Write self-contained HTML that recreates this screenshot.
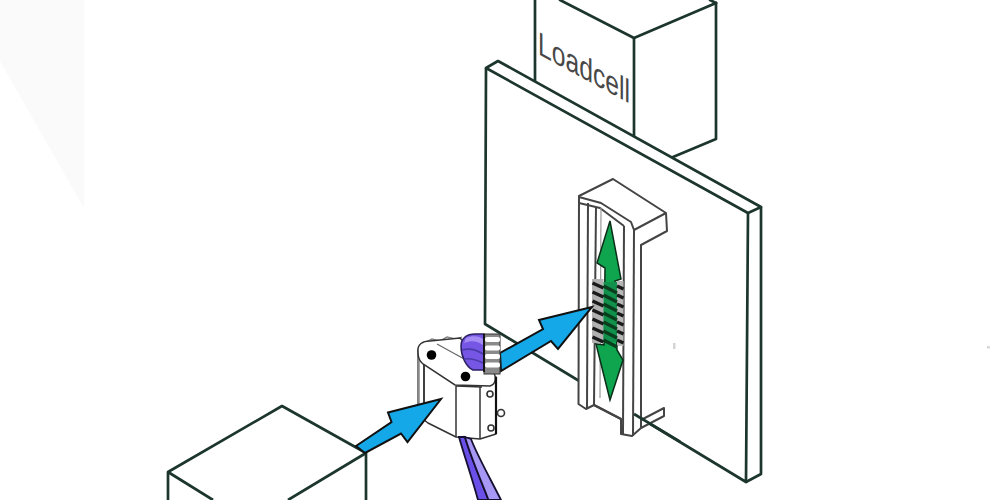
<!DOCTYPE html>
<html><head><meta charset="utf-8">
<style>
html,body{margin:0;padding:0;background:#fff;width:990px;height:500px;overflow:hidden;}
svg{display:block;}
</style></head>
<body>
<svg width="990" height="500" viewBox="0 0 990 500">
<rect width="990" height="500" fill="#fff"/>
<polygon points="0,0 84,0 84,208 0,61" fill="#fafafa"/>

<!-- Loadcell box -->
<g stroke="#1c362e" stroke-width="2.7" fill="none" stroke-linecap="round" stroke-linejoin="round">
<polyline points="535,0 535,81"/>
<polyline points="560,0 634,38 716,3"/>
<polyline points="716,3 710,0"/>
<polyline points="634,38 634,137"/>
<polyline points="716,3 716,139 673,157"/>
</g>
<text transform="translate(538,54) matrix(0.748,0.404,0,1,0,0)" font-family="Liberation Sans, sans-serif" font-size="33" fill="#484848">Loadcell</text>

<!-- Board -->
<g stroke="#1c362e" stroke-width="2.7" fill="none" stroke-linejoin="round">
<polygon points="486,68 498,61 761,207 748,213" fill="#fff"/>
<polyline points="486,68 485,324 746,482 748,213"/>
<polyline points="761,207 761,474 746,482"/>
</g>

<!-- Box -->
<g stroke="#1c362e" stroke-width="2.7" fill="none" stroke-linejoin="round">
<polyline points="168,500 168,472 282,406 366,453 366,500"/>
<polyline points="213,500 168,472"/>
<polyline points="288,500 366,453"/>
</g>

<!-- Rail -->
<g stroke="#444" stroke-width="2" fill="#fff" stroke-linejoin="round">
<polygon points="579,196 613,179 666,213 667,231 641,245 641,420 664,408 664,416 641,428 632,436 621,434 621,419 594,405 586,409 578.5,404"/>
<polyline points="579,197 601,203 631,222 634,230 666,213" fill="none"/>
<polyline points="579,203 600,208 624,226" fill="none"/>
<polyline points="634,230 633,436" fill="none"/>
<polyline points="624,226 623,434" fill="none"/>
<polyline points="641,245 641,428" fill="none"/>
<polyline points="588,203 587,408" fill="none"/>
<polyline points="596,207 594,405" fill="none"/>
<polyline points="601,208 600,398" fill="none" stroke="#999" stroke-width="1.2"/>
<polyline points="594,405 621,419" fill="none"/>
</g>

<line x1="634" y1="414" x2="680" y2="441.6" stroke="#1c362e" stroke-width="2.7"/>
<!-- Green double arrow -->
<polygon points="610,221 621,279 615,281 617,350 623,360 610,400 596,344 604,345 605,268 597,263" fill="#0fa54f" stroke="#0a2e18" stroke-width="1.5" stroke-linejoin="miter"/>
<!-- connector -->
<rect x="592" y="279" width="11.5" height="64" fill="#b0b0b0"/>
<rect x="617" y="281" width="6.5" height="65" fill="#b8b8b8"/>
<rect x="603.5" y="282" width="13.5" height="60" fill="#10904a"/>
<g stroke="#1a1a1a" stroke-width="3.5">
<line x1="592.5" y1="283" x2="603.5" y2="288"/>
<line x1="617" y1="286" x2="623.5" y2="289"/>
<line x1="592.5" y1="292" x2="603.5" y2="297"/>
<line x1="617" y1="295" x2="623.5" y2="298"/>
<line x1="592.5" y1="301" x2="603.5" y2="306"/>
<line x1="617" y1="304" x2="623.5" y2="307"/>
<line x1="592.5" y1="310" x2="603.5" y2="315"/>
<line x1="617" y1="313" x2="623.5" y2="316"/>
<line x1="592.5" y1="319" x2="603.5" y2="324"/>
<line x1="617" y1="322" x2="623.5" y2="325"/>
<line x1="592.5" y1="328" x2="603.5" y2="333"/>
<line x1="617" y1="331" x2="623.5" y2="334"/>
<line x1="592.5" y1="337" x2="603.5" y2="342"/>
<line x1="617" y1="340" x2="623.5" y2="343"/>
</g>
<g stroke="#0a3d1e" stroke-width="3.5">
<line x1="603.5" y1="286" x2="617" y2="293"/>
<line x1="603.5" y1="295" x2="617" y2="302"/>
<line x1="603.5" y1="304" x2="617" y2="311"/>
<line x1="603.5" y1="313" x2="617" y2="320"/>
<line x1="603.5" y1="322" x2="617" y2="329"/>
<line x1="603.5" y1="331" x2="617" y2="338"/>
<line x1="603.5" y1="340" x2="617" y2="347"/>
</g>

<!-- Device -->
<g stroke="#333" stroke-width="1.5" fill="#fff" stroke-linejoin="round">
<polygon points="418,350 496,377 496,434 480,439 456,437 428,423 418,415"/>
<polyline points="456,386 456,437" fill="none"/>
<polyline points="480,387 480,439" fill="none"/>
<polyline points="456,386 482,387" fill="none"/>
</g>
<line x1="418.5" y1="352" x2="418.5" y2="412" stroke="#888" stroke-width="2.5"/>
<line x1="424" y1="362" x2="424" y2="404" stroke="#111" stroke-width="1.6"/>
<g stroke="#777" stroke-width="1.2" fill="none">
<path d="M424,343 L432,339 L440,341 L447,337 L456,339 L462,337"/>
<path d="M436,341 L444,345 M448,339 L456,344"/>
</g>
<path d="M418,352 C417,344 423,341 430,341 L460,338 L490,368 C497,374 497,384 490,386 L455,385 L423,364 C419,361 418,357 418,352 Z" fill="#fff" stroke="#333" stroke-width="1.5"/>
<path d="M437,344 L486,371" stroke="#666" stroke-width="1.2" fill="none"/>
<circle cx="431.5" cy="355" r="4.8" fill="#000"/>
<circle cx="465.5" cy="376.5" r="4.8" fill="#000"/>
<line x1="496" y1="377" x2="496" y2="434" stroke="#111" stroke-width="2.2"/>
<!-- screws -->
<g fill="#fff" stroke="#333" stroke-width="1.6">
<circle cx="490" cy="394" r="3"/>
<circle cx="501" cy="413" r="3.5"/>
<circle cx="491" cy="428" r="3"/>
</g>
<!-- ribbon -->
<path d="M459,437 L465,437 C470,455 480,478 488.5,500 L478,500 C472,478 464,455 459,437 Z" fill="#6a50e8" stroke="#151030" stroke-width="1.8"/>
<path d="M465,437 L471,439 C477,455 490,478 501,500 L488.5,500 C480,478 470,455 465,437 Z" fill="#a898f5" stroke="#151030" stroke-width="1.8"/>

<!-- Arrow 1 -->
<polygon points="441,399 388,412.5 391.5,422 356,446 365,453 401,433.5 407.5,442" fill="#14a8e8" stroke="#111" stroke-width="2" stroke-linejoin="miter"/>
<!-- Arrow 2 -->
<polygon points="592,307 539,320 543,329 500,353 501,371 551,341 558,349" fill="#14a8e8" stroke="#111" stroke-width="2" stroke-linejoin="miter"/>

<!-- purple knob -->
<path d="M461,346 C461,338 467,334 475,334 L484,334 L484,370 L473,370 C466,367 461,356 461,346 Z" fill="#7656e4" stroke="#2a2060" stroke-width="1.5"/>
<path d="M466,338 C472,335 480,336 483,339 L483,345 C478,341 471,340 464,343 Z" fill="#a58cf5"/>
<path d="M462,350 C469,348 477,350 483,354 M464,359 C470,358 477,360 483,363" stroke="#4b3aa8" stroke-width="1.6" fill="none"/>
<!-- gear -->
<rect x="484" y="334" width="16" height="40" fill="#8a8a8a" stroke="#333" stroke-width="1"/>
<g fill="#fff">
<rect x="485" y="337" width="15" height="5" rx="2"/>
<rect x="485" y="345.5" width="15" height="5" rx="2"/>
<rect x="485" y="354" width="15" height="5" rx="2"/>
<rect x="485" y="362.5" width="15" height="5" rx="2"/>
</g>
<line x1="484" y1="334" x2="484" y2="372" stroke="#111" stroke-width="1.8"/>
<rect x="673" y="343" width="2.5" height="6" fill="#d4d4d4"/>
<rect x="987" y="346" width="3" height="2.5" fill="#d8d8d8"/>
</svg>
</body></html>
